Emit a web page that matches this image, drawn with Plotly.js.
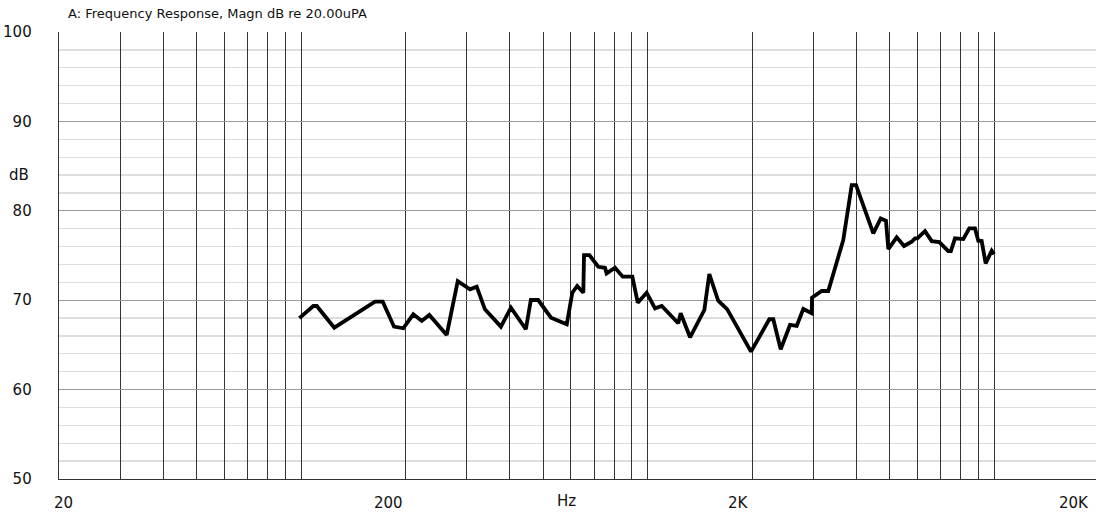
<!DOCTYPE html>
<html><head><meta charset="utf-8">
<script src="https://cdn.plot.ly/plotly-3.0.1.min.js"></script>
<style>html,body{margin:0;padding:0;background:#fff;overflow:hidden}#chart{width:1096px;height:518px}</style>
</head><body><div id="chart"></div>
<script>
// Frequency response data
const freqHz = [98.8, 108.4, 110.9, 124.6, 163.3, 171.9, 185.3, 197.1, 210.6, 222.8, 234.3, 263, 283, 307, 321, 339, 377, 403, 445, 460, 483, 526, 584, 606, 626, 652, 655, 679, 720, 753, 761, 805, 847, 903, 936, 993, 1050, 1098, 1225, 1245, 1325, 1457, 1506, 1598, 1697, 1987, 2244, 2304, 2420, 2575, 2692, 2812, 2974, 2980, 3178, 3320, 3668, 3880, 3993, 4478, 4704, 4872, 4948, 5232, 5493, 5779, 5907, 6000, 6313, 6603, 6944, 7370, 7500, 7706, 8146, 8474, 8803, 8998, 9202, 9450, 9836, 10000];
const magnDb = [68.0, 69.35, 69.35, 66.93, 69.83, 69.83, 67.04, 66.86, 68.42, 67.68, 68.35, 66.11, 72.14, 71.22, 71.51, 68.98, 67.04, 69.16, 66.75, 70.02, 70.02, 68.04, 67.31, 70.84, 71.59, 70.84, 75.05, 75.05, 73.74, 73.63, 73.0, 73.63, 72.63, 72.63, 69.72, 70.84, 69.09, 69.35, 67.42, 68.54, 65.85, 68.9, 72.93, 69.94, 68.98, 64.25, 67.87, 67.87, 64.51, 67.23, 67.12, 69.02, 68.54, 70.28, 71.03, 71.03, 76.73, 82.87, 82.87, 77.47, 79.15, 78.88, 75.72, 77.03, 76.06, 76.54, 76.92, 76.92, 77.73, 76.61, 76.5, 75.5, 75.5, 76.92, 76.84, 78.03, 78.03, 76.65, 76.61, 74.12, 75.53, 75.16];

const yTickVals = [50, 60, 70, 80, 90, 100];
const yTickText = ['50', '60', '70', '80', '90', '100'];
const xLabelVals = [20, 200, 2000, 20000];
const xLabelText = ['20', '200', '2K', '20K'];
const titleText = 'A: Frequency Response, Magn dB re 20.00uPA';
const xUnit = 'Hz';
const yUnit = 'dB';

// vertical grid at 1..9 x each decade
const xGridVals = [];
for (let d = 10; d <= 10000; d *= 10) for (let m = 1; m <= 9; m++) { const v = m * d; if (v >= 20) xGridVals.push(v); }
xGridVals.push(20000);

const FONT = 'DejaVu Sans, Liberation Sans, Arial, sans-serif';
const PX_PER_DECADE = 346.5, PLOT_W = 1037, PLOT_L = 59;
const labelShift = [4, -17, -14, -25];

// x tick labels: placed by the log scale (paper fraction of the log position), plus a small pixel shift
const xmin = Math.log10(20);
const annotations = xLabelVals.map((v, i) => ({
  text: xLabelText[i], x: (Math.log10(v) - xmin) * PX_PER_DECADE / PLOT_W, xref: 'paper', y: 0, yref: 'paper',
  xanchor: 'center', yanchor: 'middle', yshift: -24, xshift: labelShift[i], cliponaxis: false,
  showarrow: false, font: {family: FONT, size: 15, color: '#111'}
}));
annotations.push({text: xUnit, x: (566.7 - PLOT_L) / PLOT_W, xref: 'paper', y: 0, yref: 'paper', xanchor: 'center', yanchor: 'middle', yshift: -22,
  showarrow: false, font: {family: FONT, size: 15, color: '#111'}});
annotations.push({text: yUnit, x: (18.5 - PLOT_L) / PLOT_W, xref: 'paper', y: 84, yref: 'y', xanchor: 'center', yanchor: 'middle',
  showarrow: false, font: {family: FONT, size: 15, color: '#111'}});

const trace = {
  x: freqHz, y: magnDb, type: 'scatter', mode: 'lines',
  line: {color: '#000', width: 3.8, shape: 'linear'}, hoverinfo: 'skip'
};

const layout = {
  width: 1096, height: 518,
  margin: {l: PLOT_L, r: 0, t: 32, b: 39, pad: 0},
  paper_bgcolor: '#fff', plot_bgcolor: '#fff',
  showlegend: false,
  title: {text: titleText, x: 68 / 1096, xanchor: 'left', xref: 'container', y: 1 - 13 / 518, yanchor: 'middle', yref: 'container',
    font: {family: FONT, size: 13, color: '#111'}},
  xaxis: {
    type: 'log', range: [xmin, xmin + PLOT_W / PX_PER_DECADE],
    tickmode: 'array', tickvals: xGridVals, showticklabels: false, ticks: '',
    showgrid: true, gridcolor: '#333', gridwidth: 1,
    showline: true, linecolor: '#333', linewidth: 1.3, mirror: false, zeroline: false
  },
  yaxis: {
    range: [50, 100], tickmode: 'array', tickvals: yTickVals, ticktext: yTickText,
    ticks: '', ticklabelstandoff: 23, tickfont: {family: FONT, size: 15, color: '#111'},
    showgrid: true, gridcolor: '#9a9a9a', gridwidth: 1.3,
    minor: {dtick: 2, showgrid: true, gridcolor: '#dedede', gridwidth: 1.3},
    showline: true, linecolor: '#333', linewidth: 1.3, zeroline: false
  },
  annotations: annotations
};

Plotly.newPlot('chart', [trace], layout, {displayModeBar: false, staticPlot: true});
</script></body></html>
